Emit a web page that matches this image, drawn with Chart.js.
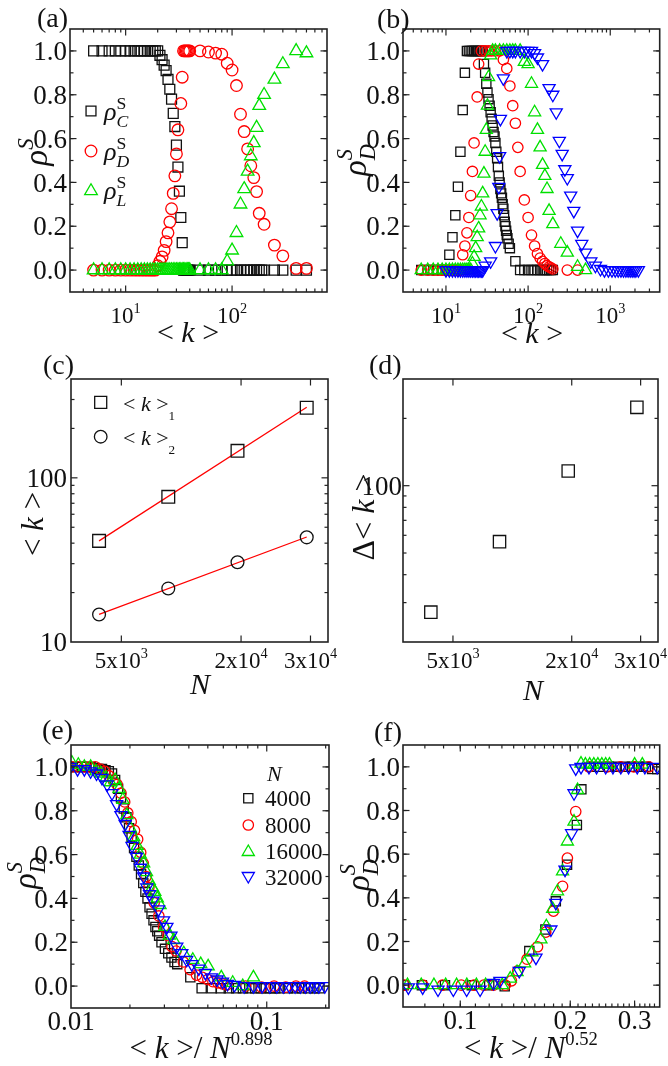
<!DOCTYPE html>
<html><head><meta charset="utf-8">
<script src="https://cdn.jsdelivr.net/npm/chart.js@4/dist/chart.umd.min.js"></script>
<style>
html,body{margin:0;padding:0;background:#fff;}
#stage{position:relative;width:668px;height:1066px;overflow:hidden;background:#fff;}
#stage canvas{position:absolute;left:0;top:0;}
</style></head><body>
<div id="stage">
<canvas id="ca" width="668" height="1066"></canvas>
<canvas id="cb" width="668" height="1066"></canvas>
<canvas id="cc" width="668" height="1066"></canvas>
<canvas id="cd" width="668" height="1066"></canvas>
<canvas id="ce" width="668" height="1066"></canvas>
<canvas id="cf" width="668" height="1066"></canvas>
</div>
<script>
// ================= DATA =================
// (a) rho^S vs <k>
const aCk = [5,6,7,8,9,10,11,12,13,14,15,16,17,18,19,20,21,22,23,24,25,26,27,28,29,30,31,32,33,34,35,36,37,38,39,40,50,60,70,80,90,100,110,120,130,140,150,160,170,180,190,200,250,300,400,500];
const aCv = [1,1,1,1,1,1,1,1,1,1,1,1,1,1,1,1,0.98,0.96,0.935,0.91,0.87,0.825,0.78,0.715,0.655,0.57,0.47,0.36,0.24,0.125,0,0,0,0,0,0,0,0,0,0,0,0,0,0,0,0,0,0,0,0,0,0,0,0,0,0];
const aDk = [5,6,7,8,9,10,11,12,13,14,15,16,17,18,19,20,21,22,23,24,25,26,27,28,29,30,31,33,34,35,36,37,38,39,40,50,60,70,80,90,100,110,120,130,140,150,160,170,180,200,250,300,400,500];
const aDv = [0,0,0,0,0,0,0,0,0,0,0,0,0,0,0,0.02,0.04,0.06,0.09,0.13,0.17,0.22,0.28,0.35,0.43,0.53,0.64,0.76,0.88,1,1,1,1,1,1,1,0.995,0.99,0.985,0.944,0.913,0.842,0.711,0.632,0.553,0.476,0.422,0.358,0.259,0.209,0.114,0.065,0.008,0.008];
const aLk = [5,6,7,8,9,10,11,12,13,14,15,16,17,18,19,20,21,22,23,24,25,26,27,28,29,30,31,32,33,34,35,36,37,38,39,40,50,60,70,80,90,100,110,120,130,140,150,160,170,180,200,250,300,400,500];
const aLv = [0,0,0,0,0,0,0,0,0,0,0,0,0,0,0,0,0,0,0,0,0,0,0,0,0,0,0,0,0,0,0,0,0,0,0,0,0,0,0,0,0.04,0.09,0.17,0.30,0.37,0.45,0.52,0.58,0.65,0.75,0.80,0.87,0.94,1.0,0.99];

// (b) rho_D^S vs <k>, N = 4000, 8000, 16000, 32000
const bBk = [5,6,7,8,9,10,11,12,13,14,15,16,17,18,19,20,21,22,23,24,25,26,27,28,29,30,31,32,33,34,35,36,37,38,39,40,41,42,43,44,45,46,47,48,49,50,51,52,53,54,55,56,58,60,70,80,90,100,110,120,130,140,150,160,170,180,190,200];
const bBv = [0,0,0,0,0,0,0.07,0.15,0.25,0.38,0.54,0.73,0.90,1,1,1,1,1,1,1,1,1,1,1,0.94,0.90,0.85,0.81,0.78,0.75,0.72,0.69,0.66,0.63,0.61,0.58,0.54,0.51,0.47,0.43,0.40,0.37,0.35,0.33,0.30,0.28,0.25,0.22,0.20,0.18,0.16,0.145,0.12,0.10,0.04,0,0,0,0,0,0,0,0,0,0,0,0,0];
const bRk = [5,6,7,8,9,10,11,12,13,14,15,16,17,18,19,20,21,22,24,25,27,30,33,36,40,45,50,55,60,65,70,75,80,90,100,110,120,130,140,150,160,170,180,190,200,300,400];
const bRv = [0,0,0,0,0,0,0,0,0,0,0,0.07,0.11,0.17,0.24,0.34,0.45,0.58,0.79,0.94,1,1,1,1,1,1,0.96,0.92,0.84,0.75,0.67,0.56,0.45,0.32,0.24,0.16,0.11,0.075,0.055,0.04,0.03,0.02,0.015,0.01,0.005,0,0];
const bGk = [5,6,7,8,9,10,11,12,13,14,15,16,17,18,19,20,21,22,23,24,25,26,27,28,29,30,31,32,33,35,37,40,45,50,55,60,65,70,80,90,100,110,120,130,140,150,160,170,180,200,250,300,400,500];
const bGv = [0,0,0,0,0,0,0,0,0,0,0,0,0,0,0,0,0.03,0.06,0.10,0.15,0.19,0.25,0.29,0.35,0.44,0.54,0.64,0.75,0.88,0.98,1,1,1,1,1,1,1,1,1,0.95,0.94,0.85,0.72,0.64,0.56,0.48,0.43,0.37,0.27,0.21,0.12,0.08,0.015,0];
const bUk = [10,11,12,13,14,15,16,17,18,19,20,21,22,23,24,25,26,27,28,30,35,40,42,44,45,46,50,55,60,65,70,80,90,100,110,120,130,150,180,200,220,240,260,280,300,330,360,400,450,500,580,660,760,850,950,1050,1150,1250,1350,1450,1550,1650,1750,1850,1950,2050,2200];
const bUv = [0,0,0,0,0,0,0,0,0,0,0,0,0,0,0,0,0,0,0,0.02,0.04,0.11,0.26,0.38,0.52,0.69,0.875,1,1,1,1,1,1,1,1,0.99,0.97,0.94,0.83,0.80,0.72,0.59,0.53,0.46,0.42,0.34,0.27,0.18,0.12,0.08,0.04,0.02,0.005,0,0,0,0,0,0,0,0,0,0,0,0,0,0];

// (c) <k>_1, <k>_2 vs N ; (d) Delta<k> vs N
const cN  = [4000, 8000, 16000, 32000];
const cK1 = [41.3, 76.6, 146, 267];
const cK2 = [14.7, 21.2, 30.6, 43.4];
const dDK = [27.2, 56.2, 116.4, 224];

// (e) rho_D^S vs <k>/N^0.898
const eBx = [0.0102,0.0108,0.0114,0.0120,0.0126,0.0132,0.0138,0.0144,0.0150,0.0156,0.0162,0.0168,0.0174,0.0180,0.0186,0.0192,0.0198,0.0204,0.0210,0.0216,0.0222,0.0228,0.0234,0.0240,0.0246,0.0252,0.0258,0.0264,0.0270,0.0276,0.0282,0.0290,0.0302,0.0314,0.0326,0.0338,0.0349,0.0407,0.0465,0.0524,0.0582,0.0640,0.0698,0.0756,0.0815,0.0873,0.0931,0.0989,0.1047,0.1105,0.1164,0.1280,0.1400,0.1510,0.1630,0.1750,0.1860];
const eBv = [1,1,1,1,1,0.995,0.99,0.99,0.985,0.98,0.97,0.94,0.90,0.86,0.81,0.77,0.72,0.68,0.63,0.59,0.55,0.51,0.47,0.43,0.40,0.36,0.33,0.30,0.27,0.25,0.23,0.20,0.17,0.15,0.13,0.11,0.10,0.04,-0.01,-0.01,-0.01,-0.01,-0.01,-0.01,-0.01,-0.01,-0.01,-0.01,-0.01,-0.01,-0.01,-0.01,-0.01,-0.01,-0.01,-0.01,-0.01];
const eRx = [0.0101,0.0109,0.0117,0.0125,0.0133,0.0141,0.0149,0.0156,0.0164,0.0172,0.0180,0.0188,0.0195,0.0203,0.0211,0.0219,0.0227,0.0234,0.0242,0.0250,0.0266,0.0281,0.0297,0.0313,0.0328,0.0344,0.0375,0.0406,0.0438,0.0469,0.0500,0.0531,0.0563,0.0594,0.0625,0.0780,0.0940,0.1090,0.1250,0.1410,0.1560];
const eRv = [1,1,1,1,1,0.99,0.98,0.96,0.94,0.92,0.88,0.84,0.79,0.75,0.71,0.67,0.61,0.56,0.50,0.45,0.38,0.32,0.27,0.23,0.18,0.16,0.11,0.075,0.05,0.04,0.03,0.02,0.015,0.01,0.005,0,-0.005,0,-0.005,0,0];
const eGx = [0.0101,0.0109,0.0117,0.0126,0.0134,0.0142,0.0151,0.0159,0.0168,0.0176,0.0184,0.0193,0.0201,0.0209,0.0218,0.0226,0.0235,0.0243,0.0251,0.0260,0.0268,0.0276,0.0285,0.0302,0.0318,0.0335,0.0377,0.0419,0.0460,0.0502,0.0586,0.0670,0.0754,0.0855];
const eGv = [1.02,1.01,1,1,0.98,0.97,0.95,0.93,0.94,0.90,0.85,0.78,0.72,0.68,0.64,0.60,0.56,0.52,0.48,0.45,0.43,0.40,0.37,0.27,0.23,0.21,0.15,0.12,0.10,0.09,0.04,0.015,0.0,0.04];
const eUx = [0.0099,0.0108,0.0117,0.0126,0.0135,0.0144,0.0153,0.0162,0.0171,0.0180,0.0189,0.0198,0.0205,0.0216,0.0226,0.0235,0.0244,0.0252,0.0262,0.0280,0.0297,0.0309,0.0324,0.0347,0.0368,0.0390,0.0414,0.0450,0.0486,0.0522,0.0558,0.0594,0.0630,0.0684,0.0766,0.0856,0.0946,0.1036,0.1126,0.1216,0.1306,0.1396,0.1486,0.1576,0.1666,0.1756,0.1846,0.1981];
const eUv = [1,0.99,0.99,0.98,0.97,0.95,0.92,0.88,0.83,0.78,0.74,0.69,0.64,0.59,0.54,0.50,0.45,0.42,0.39,0.35,0.30,0.27,0.23,0.18,0.15,0.12,0.10,0.08,0.06,0.04,0.03,0.02,0.01,0.005,0,0,0,0,0,0,0,0,0,0,0,0,0,0];

// (f) rho_D^S vs <k>/N^0.52
const fBx = [0.0700,0.0785,0.0908,0.1075,0.1200,0.1323,0.1545,0.1710,0.1826,0.1960,0.2085,0.2145,0.2280,0.2410,0.2550,0.2680,0.2820,0.2950,0.3080,0.3220,0.3350,0.3460];
const fBv = [0,0,0,0,0,-0.005,0.156,0.255,0.384,0.552,0.734,0.897,1,1,1,1,1,1,1,1,0.99,0.99];
const fRx = [0.0705,0.0790,0.0894,0.1006,0.1090,0.1160,0.1233,0.1328,0.1380,0.1436,0.1523,0.1627,0.1714,0.1799,0.1905,0.1964,0.2070,0.2250,0.2525,0.2747,0.2985,0.3280];
const fRv = [0,0,0,0,0,0,0,0,0.02,0.065,0.119,0.176,0.243,0.339,0.453,0.582,0.795,1,1,1,1,1];
const fGx = [0.0717,0.0782,0.0847,0.0912,0.0977,0.1042,0.1107,0.1173,0.1238,0.1303,0.1370,0.1430,0.1500,0.1570,0.1662,0.1720,0.1790,0.1845,0.1905,0.1964,0.2048,0.2094,0.2140,0.2200,0.2260,0.2320,0.2380,0.2440,0.2500,0.2560,0.3000,0.3150];
const fGv = [0,0,0,0,0,0,0,0,0,0,0.03,0.06,0.10,0.15,0.21,0.27,0.35,0.43,0.521,0.658,0.749,0.894,1.015,1.01,1.01,1.01,1.01,1.01,1.01,1.01,1.01,1.01];
const fUx = [0.0721,0.0789,0.0869,0.0957,0.1041,0.1133,0.1233,0.1284,0.1450,0.1611,0.1770,0.1826,0.1935,0.2017,0.2048,0.2070,0.2140,0.2250,0.2360,0.2500,0.2617,0.2750,0.2888,0.3050,0.3200,0.3460];
const fUv = [-0.01,-0.01,-0.02,-0.02,-0.02,-0.02,0.01,0.02,0.065,0.126,0.255,0.377,0.529,0.696,0.879,0.993,1,1,1,1,1,1,1,1,1,1];

// ticks
const rhoYTicks = [0,0.2,0.4,0.6,0.8,1.0];
const rhoYLabels = ['0.0','0.2','0.4','0.6','0.8','1.0'];
const aXTicks = [10,100];           const aXLabels = ['10^1','10^2'];
const bXTicks = [10,100,1000];      const bXLabels = ['10^1','10^2','10^3'];
const cdXTicks = [5000,16580,33230]; const cdXLabels = ['5x10^3','2x10^4','3x10^4'];
const cYTicks = [10,100];           const cYLabels = ['10','100'];
const dYTicks = [100];              const dYLabels = ['100'];
const eXTicks = [0.01,0.1];         const eXLabels = ['0.01','0.1'];
const fXTicks = [0.1,0.2,0.3];      const fXLabels = ['0.1','0.2','0.3'];
const legendN = ['4000','8000','16000','32000'];

// ================= RENDERING =================
const W = 668, H = 1066;
const FAM = '"Liberation Serif","Times New Roman",serif';
const COL = {k:'#111111', r:'#ff0000', g:'#00e000', b:'#0000ff'};
function font(sz,it){ return (it?'italic ':'') + sz.toFixed(1) + 'px ' + FAM; }
function layoutRich(ctx, segs, base){
  let x = 0; const ops = [];
  for (const s of segs){
    if (s.stack){
      const sz = base*0.68;
      const f1 = font(sz, s.stack.supIt), f2 = font(sz, s.stack.subIt);
      ctx.font = f1; const w1 = ctx.measureText(s.stack.sup).width;
      ctx.font = f2; const w2 = ctx.measureText(s.stack.sub).width;
      ops.push({t:s.stack.sup, f:f1, x:x+(s.dx||0)+(s.supShift||0), y:-base*0.42});
      ops.push({t:s.stack.sub, f:f2, x:x+(s.dx||0), y:base*0.26});
      x += Math.max(w1,w2) + (s.dx||0);
    } else {
      const sz = (s.sup||s.sub) ? base*(s.scale||0.62) : base;
      const f = font(sz, s.it);
      ctx.font = f; const w = ctx.measureText(s.t).width;
      const y = (s.sup ? -base*0.42 : s.sub ? base*0.28 : 0) + (s.dy||0);
      ops.push({t:s.t, f, x:x+(s.dx||0), y});
      x += w + (s.dx||0);
    }
  }
  return {ops, w:x};
}
function drawRich(ctx, segs, x, y, base, align, rot){
  ctx.save(); ctx.translate(x,y); if (rot) ctx.rotate(rot);
  ctx.textBaseline = 'alphabetic'; ctx.textAlign = 'left'; ctx.fillStyle = '#111';
  const L = layoutRich(ctx, segs, base);
  const off = align==='center' ? -L.w/2 : align==='right' ? -L.w : 0;
  for (const o of L.ops){ ctx.font = o.f; ctx.fillText(o.t, off+o.x, o.y); }
  ctx.restore();
}
function parseLabel(s){
  const i = s.indexOf('^');
  if (i < 0) return [{t:s}];
  return [{t:s.slice(0,i)}, {t:s.slice(i+1), sup:true}];
}
function marker(ctx, m){
  ctx.save(); ctx.strokeStyle = m.c; ctx.lineWidth = m.bw||1.3; ctx.beginPath();
  const r = m.r;
  if (m.s==='rect'){ const h = r*Math.SQRT1_2; ctx.rect(m.x-h, m.y-h, 2*h, 2*h); }
  else if (m.s==='circle'){ ctx.arc(m.x, m.y, r, 0, 2*Math.PI); }
  else { const g = m.s==='down' ? -1 : 1;
    ctx.moveTo(m.x, m.y - g*r); ctx.lineTo(m.x + r*0.866, m.y + g*r/2); ctx.lineTo(m.x - r*0.866, m.y + g*r/2); ctx.closePath(); }
  ctx.stroke(); ctx.restore();
}
function logMinors(min,max){
  const out = [];
  for (let e = Math.floor(Math.log10(min)); e <= Math.ceil(Math.log10(max)); e++)
    for (let m = 2; m <= 9; m++){ const v = m*Math.pow(10,e); if (v > min && v < max) out.push(v); }
  return out;
}
function stepMinors(min,max,step){
  const out = []; for (let v = Math.ceil(min/step-1e-9)*step; v <= max+1e-9; v += step) out.push(+v.toFixed(6)); return out;
}
function decor(o){
  return { id:'decor', afterDraw(chart){
    const ctx = chart.ctx, a = chart.chartArea, xs = chart.scales.x, ys = chart.scales.y;
    ctx.save();
    ctx.strokeStyle = '#222'; ctx.lineWidth = 1.2;
    const seg = (x1,y1,x2,y2)=>{ ctx.beginPath(); ctx.moveTo(x1,y1); ctx.lineTo(x2,y2); ctx.stroke(); };
    const tx = (v,len)=>{ const p = xs.getPixelForValue(v); if (p < a.left+1 || p > a.right-1) return; seg(p,a.bottom,p,a.bottom-len); seg(p,a.top,p,a.top+len); };
    const ty = (v,len)=>{ const p = ys.getPixelForValue(v); if (p < a.top+1 || p > a.bottom-1) return; seg(a.left,p,a.left+len,p); seg(a.right,p,a.right-len,p); };
    (o.xMinor||[]).forEach(v=>tx(v,3.5)); o.xMajor.forEach(v=>tx(v,6.5));
    (o.yMinor||[]).forEach(v=>ty(v,3.5)); o.yMajor.forEach(v=>ty(v,6.5));
    ctx.lineWidth = 1.6; ctx.strokeRect(a.left, a.top, a.right-a.left, a.bottom-a.top);
    o.xMajor.forEach((v,i)=>drawRich(ctx, parseLabel(o.xLabels[i]), xs.getPixelForValue(v)+(o.xDx||0), a.bottom+o.xDy, o.xSize, 'center'));
    o.yMajor.forEach((v,i)=>drawRich(ctx, parseLabel(o.yLabels[i]), a.left-(o.yGap||3), ys.getPixelForValue(v)+o.ySize*0.34, o.ySize, 'right'));
    (o.texts||[]).forEach(t=>drawRich(ctx, t.s, t.x, t.y, t.z, t.al||'left', t.r||0));
    (o.legend||[]).forEach(m=>marker(ctx, m));
    ctx.restore();
  }};
}
function ds(xv, yv, style, color, r, order, rot){
  return { data: xv.map((x,i)=>({x, y:yv[i]})), pointStyle: style, pointRadius: r, pointHoverRadius: r,
    borderColor: color, pointBorderColor: color, backgroundColor: 'rgba(0,0,0,0)', pointBackgroundColor: 'rgba(0,0,0,0)',
    pointBorderWidth: 1.3, showLine: false, order, pointRotation: rot||0, clip: 0 };
}
function mk(id, box, xs, ys, datasets, dec){
  return new Chart(document.getElementById(id), {
    type: 'scatter', data: { datasets },
    options: { responsive:false, animation:false, devicePixelRatio:1, events:[],
      layout: { padding: { left: box[0], right: W-box[1], top: box[2], bottom: H-box[3] } },
      plugins: { legend:{display:false}, tooltip:{enabled:false} },
      scales: { x: Object.assign({display:false}, xs), y: Object.assign({display:false}, ys) } },
    plugins: [dec]
  });
}
const K = [{t:'< '},{t:'k',it:true},{t:' >'}];
const rhoDS = [{t:'ρ',it:true},{stack:{sup:'S',sub:'D',supIt:true,subIt:true}}];
const R90 = -Math.PI/2;
const YS = 27;

// ---- (a)
mk('ca', [70,327,29,292], {type:'logarithmic', min:3, max:780}, {type:'linear', min:-0.1, max:1.1}, [
  ds(aCk, aCv, 'rect', COL.k, 7, 3),
  ds(aDk, aDv, 'circle', COL.r, 5.8, 2),
  ds(aLk, aLv, 'triangle', COL.g, 7.3, 1)
], decor({xMajor:aXTicks, xLabels:aXLabels, xMinor:logMinors(3,780), xDy:31, xSize:23,
  yMajor:rhoYTicks, yLabels:rhoYLabels, yMinor:stepMinors(-0.1,1.1,0.1), ySize:YS,
  texts:[
    {s:[{t:'(a)'}], x:37, y:27, z:28},
    {s:K, x:188, y:342, z:30, al:'center'},
    {s:[{t:'ρ',it:true},{t:'S',it:true,sup:true,scale:0.7}], x:47, y:152, z:33, al:'center', r:R90},
    {s:[{t:'ρ',it:true},{stack:{sup:'S',sub:'C',subIt:true}}], x:104, y:120, z:26},
    {s:[{t:'ρ',it:true},{stack:{sup:'S',sub:'D',subIt:true}}], x:104, y:160, z:26},
    {s:[{t:'ρ',it:true},{stack:{sup:'S',sub:'L',subIt:true}}], x:104, y:199, z:26}
  ],
  legend:[{s:'rect',c:COL.k,x:91,y:111,r:7},{s:'circle',c:COL.r,x:91,y:151,r:5.8},{s:'tri',c:COL.g,x:91,y:191,r:7.3}]
}));

// ---- (b)
mk('cb', [403,661,29,292], {type:'logarithmic', min:3, max:4000}, {type:'linear', min:-0.1, max:1.1}, [
  ds(bBk, bBv, 'rect', COL.k, 6.5, 4),
  ds(bRk, bRv, 'circle', COL.r, 5.2, 3),
  ds(bGk, bGv, 'triangle', COL.g, 7, 2),
  ds(bUk, bUv, 'triangle', COL.b, 7, 1, 180)
], decor({xMajor:bXTicks, xLabels:bXLabels, xMinor:logMinors(3,4000), xDy:31, xSize:23,
  yMajor:rhoYTicks, yLabels:rhoYLabels, yMinor:stepMinors(-0.1,1.1,0.1), ySize:YS,
  texts:[
    {s:[{t:'(b)'}], x:377, y:28, z:28},
    {s:K, x:532, y:343, z:30, al:'center'},
    {s:rhoDS, x:366, y:160, z:33, al:'center', r:R90}
  ]
}));

// ---- (c)
function powFit(xv, yv){
  const n = xv.length; let sx=0, sy=0, sxx=0, sxy=0;
  for (let i=0;i<n;i++){ const X=Math.log10(xv[i]), Y=Math.log10(yv[i]); sx+=X; sy+=Y; sxx+=X*X; sxy+=X*Y; }
  const b = (n*sxy-sx*sy)/(n*sxx-sx*sx), a0 = (sy-b*sx)/n;
  const ends = [xv[0], xv[n-1]];
  return ends.map(x=>({x, y:Math.pow(10, a0 + b*Math.log10(x))}));
}
const fitLine = (pts)=>({ data: pts, showLine:true, borderColor:'#ff0000', borderWidth:1.3, pointRadius:0, order:5, clip:0 });
mk('cc', [71,328,379,642], {type:'logarithmic', min:3020, max:39600}, {type:'logarithmic', min:10, max:400}, [
  fitLine(powFit(cN, cK1)), fitLine(powFit(cN, cK2)),
  ds(cN, cK1, 'rect', COL.k, 9, 2),
  ds(cN, cK2, 'circle', COL.k, 6.4, 1)
], decor({xMajor:cdXTicks, xLabels:cdXLabels, xMinor:[], xDy:26, xSize:23,
  yMajor:cYTicks, yLabels:cYLabels, yMinor:logMinors(10,400), ySize:YS, yGap:4,
  texts:[
    {s:[{t:'(c)'}], x:43, y:374, z:28},
    {s:[{t:'N',it:true}], x:200, y:694, z:30, al:'center'},
    {s:K, x:43, y:524, z:31, al:'center', r:R90},
    {s:[{t:'< '},{t:'k',it:true},{t:' >'},{t:'1',sub:true,scale:0.6,dy:3}], x:123, y:411, z:22},
    {s:[{t:'< '},{t:'k',it:true},{t:' >'},{t:'2',sub:true,scale:0.6,dy:3}], x:123, y:445, z:22}
  ],
  legend:[{s:'rect',c:COL.k,x:100.7,y:402.3,r:8.5},{s:'circle',c:COL.k,x:100.7,y:436.7,r:6.3}]
}));

// ---- (d)
mk('cd', [403,660,379,642], {type:'logarithmic', min:3020, max:39600}, {type:'logarithmic', min:20, max:300}, [
  ds(cN, dDK, 'rect', COL.k, 8.7, 1)
], decor({xMajor:cdXTicks, xLabels:cdXLabels, xMinor:[], xDy:26, xSize:23,
  yMajor:dYTicks, yLabels:dYLabels, yMinor:logMinors(20,300), ySize:YS, yGap:1,
  texts:[
    {s:[{t:'(d)'}], x:369, y:374, z:28},
    {s:[{t:'N',it:true}], x:533, y:700, z:30, al:'center'},
    {s:[{t:'Δ'},{t:'< '},{t:'k',it:true},{t:' >'}], x:374, y:517, z:32, al:'center', r:R90}
  ]
}));

// ---- (e)
const NtitleE = [{t:'< '},{t:'k',it:true},{t:' >/ '},{t:'N',it:true},{t:'0.898',sup:true,scale:0.6}];
mk('ce', [71,329,745,1008], {type:'logarithmic', min:0.01, max:0.208}, {type:'linear', min:-0.1, max:1.1}, [
  ds(eBx, eBv, 'rect', COL.k, 6.5, 4),
  ds(eRx, eRv, 'circle', COL.r, 5.2, 3),
  ds(eGx, eGv, 'triangle', COL.g, 7, 2),
  ds(eUx, eUv, 'triangle', COL.b, 7, 1, 180)
], decor({xMajor:eXTicks, xLabels:eXLabels, xMinor:logMinors(0.01,0.208), xDy:22, xSize:27,
  yMajor:rhoYTicks, yLabels:rhoYLabels, yMinor:stepMinors(-0.1,1.1,0.1), ySize:YS,
  texts:[
    {s:[{t:'(e)'}], x:42, y:739, z:28},
    {s:NtitleE, x:201, y:1058, z:31, al:'center'},
    {s:rhoDS, x:36, y:873, z:33, al:'center', r:R90},
    {s:[{t:'N',it:true}], x:267, y:781, z:22},
    {s:[{t:legendN[0]}], x:265, y:806, z:23},
    {s:[{t:legendN[1]}], x:265, y:833, z:23},
    {s:[{t:legendN[2]}], x:265, y:859, z:23},
    {s:[{t:legendN[3]}], x:265, y:885, z:23}
  ],
  legend:[{s:'rect',c:COL.k,x:248.3,y:798.3,r:6.5},{s:'circle',c:COL.r,x:248.3,y:825,r:5.2},
          {s:'tri',c:COL.g,x:248.3,y:852,r:7},{s:'down',c:COL.b,x:248.3,y:876,r:7}]
}));

// ---- (f)
const NtitleF = [{t:'< '},{t:'k',it:true},{t:' >/ '},{t:'N',it:true},{t:'0.52',sup:true,scale:0.6}];
mk('cf', [403,661,745,1007], {type:'logarithmic', min:0.0697, max:0.3514}, {type:'linear', min:-0.1, max:1.1}, [
  ds(fBx, fBv, 'rect', COL.k, 6.5, 4),
  ds(fRx, fRv, 'circle', COL.r, 5.2, 3),
  ds(fGx, fGv, 'triangle', COL.g, 7, 2),
  ds(fUx, fUv, 'triangle', COL.b, 7, 1, 180)
], decor({xMajor:fXTicks, xLabels:fXLabels, xMinor:stepMinors(0.0697,0.3514,0.01), xDy:22, xSize:27,
  yMajor:rhoYTicks, yLabels:rhoYLabels, yMinor:stepMinors(-0.1,1.1,0.1), ySize:YS,
  texts:[
    {s:[{t:'(f)'}], x:374, y:741, z:28},
    {s:NtitleF, x:531, y:1058, z:31, al:'center'},
    {s:rhoDS, x:369, y:875, z:33, al:'center', r:R90}
  ]
}));
</script>
</body></html>
